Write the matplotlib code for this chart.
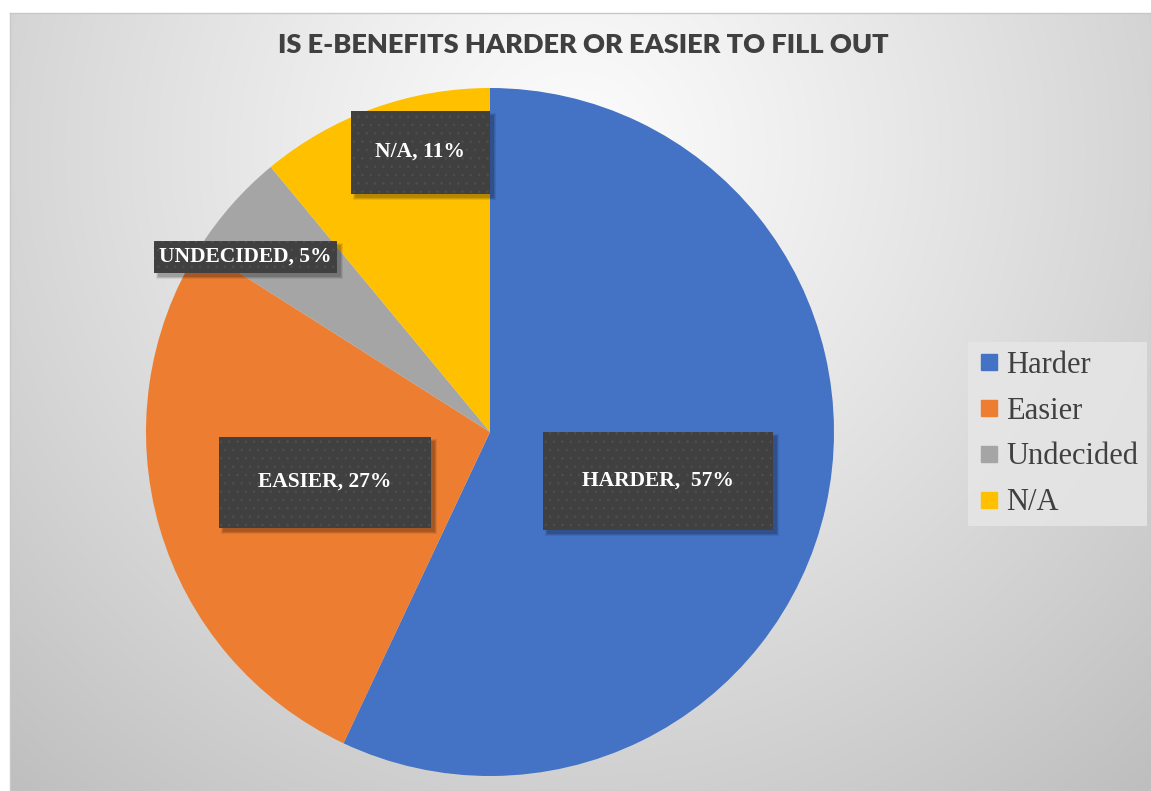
import numpy as np
import matplotlib
matplotlib.use("Agg")
import matplotlib.pyplot as plt
from matplotlib.lines import Line2D
from matplotlib.patches import Rectangle

# ---- data ----
categories = ["Harder", "Easier", "Undecided", "N/A"]
values = [57, 27, 5, 11]
label_texts = ["HARDER,  57%", "EASIER, 27%", "UNDECIDED, 5%", "N/A, 11%"]
colors = ["#4472C4", "#ED7D31", "#A5A5A5", "#FFC000"]
title = "IS E-BENEFITS HARDER OR EASIER TO FILL OUT"

# ---- layout (pixels) ----
W, H = 1151, 791
# label box centers and sizes in pixel coords (x, y from top, w, h)
label_boxes = [(658, 481, 230, 98), (325, 482, 212, 91), (245, 257, 183, 32), (420, 152, 139, 83)]
pie_cx, pie_cy, pie_r = 490, 432, 344

plt.rcParams["hatch.linewidth"] = 0.6

fig = plt.figure(figsize=(W / 100, H / 100), dpi=100)
fig.patch.set_facecolor("white")

# background radial gradient
bg = fig.add_axes([10 / W, 0, 1 - 10 / W, 1 - 13 / H], zorder=0)
yy, xx = np.mgrid[13:H, 10:W]
d = np.sqrt((xx - 575) ** 2 + ((yy - 150) * 1.0) ** 2) / 860.0
val = 252 - 62 * np.clip(d, 0, 1.2) ** 1.15
img = np.dstack([val, val, val]) / 255.0
bg.imshow(img, aspect="auto", extent=[0, 1, 0, 1], interpolation="bilinear")
bg.set_xlim(0, 1); bg.set_ylim(0, 1)
bg.set_xticks([]); bg.set_yticks([])
for s in bg.spines.values():
    s.set_edgecolor("#c8c8c8"); s.set_linewidth(1.0)

# pie axes
ax = fig.add_axes([(pie_cx - pie_r) / W, (H - pie_cy - pie_r) / H, 2 * pie_r / W, 2 * pie_r / H], zorder=2)
ax.set_facecolor("none")
wedges, _ = ax.pie(values, colors=colors, startangle=90, counterclock=False, radius=1.0,
                   wedgeprops=dict(linewidth=0))
ax.set_xlim(-1, 1); ax.set_ylim(-1, 1)
ax.set_aspect("equal")
ax.axis("off")

def px2d(x, y):
    return (x - pie_cx) / pie_r, (pie_cy - y) / pie_r

serif = ["Liberation Serif", "DejaVu Serif"]
for txt, (cx, cy, bw, bh) in zip(label_texts, label_boxes):
    x0, y0 = px2d(cx - bw / 2, cy + bh / 2)
    w, h = bw / pie_r, bh / pie_r
    off = 4 / pie_r
    # soft drop shadow
    for k, a in enumerate([0.08, 0.10, 0.14]):
        g = (2 - k) / pie_r
        ax.add_patch(Rectangle((x0 + off - g, y0 - off - g), w + 2 * g, h + 2 * g,
                               facecolor="black", alpha=a, edgecolor="none", zorder=3))
    ax.add_patch(Rectangle((x0, y0), w, h, facecolor="#404040", edgecolor="#4e4e4e",
                           hatch="..", linewidth=0, zorder=4))
    tx, ty = px2d(cx, cy)
    ax.text(tx, ty, txt, ha="center", va="center",
            color="white", fontsize=15.5, fontweight="bold", family=serif, zorder=5)

fig.text(583 / W, 1 - 45 / H, title, ha="center", va="center", fontsize=19.5,
         fontweight="heavy", color="#404040", family=["Lato", "DejaVu Sans"])

handles = [Line2D([], [], marker="s", linestyle="None", markersize=11.5, color=c) for c in colors]
leg = fig.legend(handles, categories, loc="center left", bbox_to_anchor=(968 / W, 1 - 434 / H),
                 prop={"family": serif, "size": 22}, labelcolor="#404040",
                 frameon=True, fancybox=False, handletextpad=0.15, handlelength=0.8,
                 labelspacing=0.55, borderpad=0.3, borderaxespad=0)
leg.get_frame().set_facecolor("#e6e6e6")
leg.get_frame().set_edgecolor("none")
leg.get_frame().set_alpha(0.85)

fig.savefig("out.png", dpi=100)
